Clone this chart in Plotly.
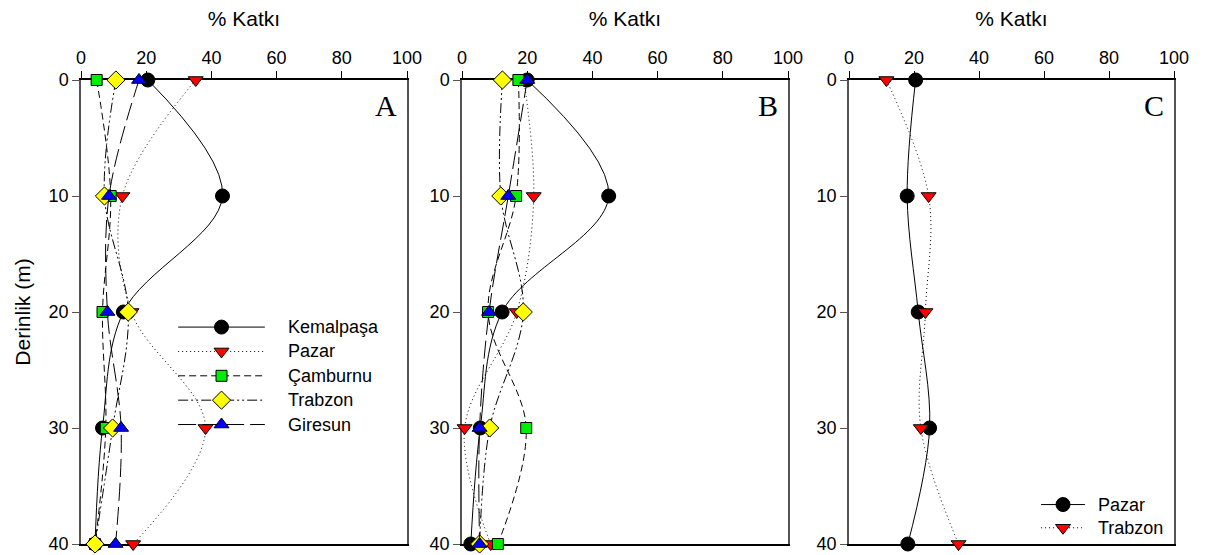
import plotly.graph_objects as go

# Depth levels (m)
depth = [0, 10, 20, 30, 40]

# Panel A: % contribution per station
a_kemalpasa = [20.5, 43.4, 13.0, 6.6, 4.3]
a_pazar = [35.2, 12.7, 15.5, 38.2, 16.0]
a_camburnu = [4.8, 9.1, 6.6, 7.6, 4.3]
a_trabzon = [10.7, 7.2, 14.5, 9.7, 4.3]
a_giresun = [17.8, 8.6, 8.1, 12.3, 10.6]

# Panel B
b_kemalpasa = [20.0, 45.0, 12.3, 5.6, 2.7]
b_pazar = [19.0, 22.0, 16.8, 0.8, 8.8]
b_camburnu = [17.3, 16.6, 8.0, 19.7, 11.0]
b_trabzon = [12.4, 11.9, 18.8, 8.5, 5.4]
b_giresun = [20.0, 14.2, 8.3, 5.4, 5.4]

# Panel C
c_pazar = [20.5, 17.9, 21.3, 24.8, 18.1]
c_trabzon = [11.5, 24.5, 23.5, 22.1, 33.7]

panel_labels = ["A", "B", "C"]
x_ticks = [0, 20, 40, 60, 80, 100]
y_ticks = [0, 10, 20, 30, 40]

styles = {
    "Kemalpaşa": dict(dash="solid", symbol="circle", color="black", size=14),
    "Pazar": dict(dash="1px,3px", symbol="triangle-down", color="red", size=13),
    "Çamburnu": dict(dash="7px,4px", symbol="square", color="#00ee00", size=11),
    "Trabzon": dict(dash="10px,3px,2px,3px,2px,3px", symbol="diamond", color="#ffff00", size=14),
    "Giresun": dict(dash="18px,6px", symbol="triangle-up", color="blue", size=13),
}
# panel C uses its own naming with the A/B styles
styles_c = {
    "Pazar": styles["Kemalpaşa"],
    "Trabzon": styles["Pazar"],
}

panels = [
    ("x", "y", [("Kemalpaşa", a_kemalpasa), ("Pazar", a_pazar), ("Çamburnu", a_camburnu),
                ("Trabzon", a_trabzon), ("Giresun", a_giresun)], styles),
    ("x2", "y2", [("Kemalpaşa", b_kemalpasa), ("Pazar", b_pazar), ("Çamburnu", b_camburnu),
                  ("Trabzon", b_trabzon), ("Giresun", b_giresun)], styles),
    ("x3", "y3", [("Pazar", c_pazar), ("Trabzon", c_trabzon)], styles_c),
]

fig = go.Figure()


def add_series(xa, ya, name, vals, st):
    fig.add_trace(go.Scatter(
        x=vals, y=depth, xaxis=xa, yaxis=ya, name=name, showlegend=False,
        mode="lines+markers", cliponaxis=False,
        line=dict(color="black", width=1, dash=st["dash"], shape="spline", smoothing=1.0),
        marker=dict(symbol=st["symbol"], color=st["color"], size=st["size"],
                    line=dict(color="black", width=1)),
    ))


for xa, ya, series, st_map in panels:
    for name, vals in series:
        add_series(xa, ya, name, vals, st_map[name])


# In-panel legends (line sample + marker + label), drawn in axis units
def add_legend(xa, ya, names, st_map, x0, x1, xt, rows):
    for name, yy in zip(names, rows):
        st = st_map[name]
        fig.add_trace(go.Scatter(
            x=[x0, x1], y=[yy, yy], xaxis=xa, yaxis=ya, mode="lines", showlegend=False,
            hoverinfo="skip", line=dict(color="black", width=1, dash=st["dash"]),
        ))
        fig.add_trace(go.Scatter(
            x=[(x0 + x1) / 2], y=[yy], xaxis=xa, yaxis=ya, mode="markers", showlegend=False,
            hoverinfo="skip",
            marker=dict(symbol=st["symbol"], color=st["color"], size=st["size"],
                        line=dict(color="black", width=1)),
        ))
        fig.add_annotation(x=xt, y=yy, xref=xa, yref=ya, text=name, showarrow=False,
                           xanchor="left", yanchor="middle",
                           font=dict(family="Liberation Sans, Arial", size=18, color="black"))


add_legend("x", "y", ["Kemalpaşa", "Pazar", "Çamburnu", "Trabzon", "Giresun"], styles,
           29.8, 56.4, 63.0, [21.3, 23.4, 25.5, 27.6, 29.7])
add_legend("x3", "y3", ["Pazar", "Trabzon"], styles_c,
           59.1, 72.6, 76.0, [36.6, 38.6])

domains_x = [[81 / 1208, 407 / 1208], [462 / 1208, 788 / 1208], [849 / 1208, 1174 / 1208]]
dom_y = [1 - 544 / 555, 1 - 80 / 555]

font = dict(family="Liberation Sans, Arial", size=18, color="black")
title_font = dict(family="Liberation Sans, Arial", size=21, color="black")

for i, (dx, lab) in enumerate(zip(domains_x, panel_labels)):
    sfx = "" if i == 0 else str(i + 1)
    fig.update_layout(**{
        "xaxis" + sfx: dict(
            domain=dx, anchor="y" + sfx, side="top", range=[0, 100],
            tickvals=x_ticks, ticks="outside", ticklen=7, tickcolor="black",
            showline=True, linecolor="black", linewidth=1.5, mirror=True,
            showgrid=False, zeroline=False, layer="below traces", automargin=False,
            tickfont=font, title=dict(text="% Katkı", font=title_font, standoff=16),
        ),
        "yaxis" + sfx: dict(
            domain=dom_y, anchor="x" + sfx, range=[40, 0],
            tickvals=y_ticks, ticks="outside", ticklen=7, tickcolor="#555",
            showline=True, linecolor="#555", linewidth=1.5, mirror=True,
            showgrid=False, zeroline=False, layer="below traces", automargin=False,
            tickfont=font,
            title=dict(text="Derinlik (m)" if i == 0 else "", font=title_font, standoff=12),
        ),
    })
    fig.add_annotation(
        x=0.975, y=0.985, xref="x" + sfx + " domain", yref="y" + sfx + " domain",
        text=lab, showarrow=False, xanchor="right", yanchor="top",
        font=dict(family="Liberation Serif, Times New Roman", size=30, color="black"),
    )

fig.update_layout(
    width=1208, height=555, margin=dict(l=0, r=0, t=0, b=0),
    paper_bgcolor="white", plot_bgcolor="white", showlegend=False,
)

fig.write_html("out.html")
